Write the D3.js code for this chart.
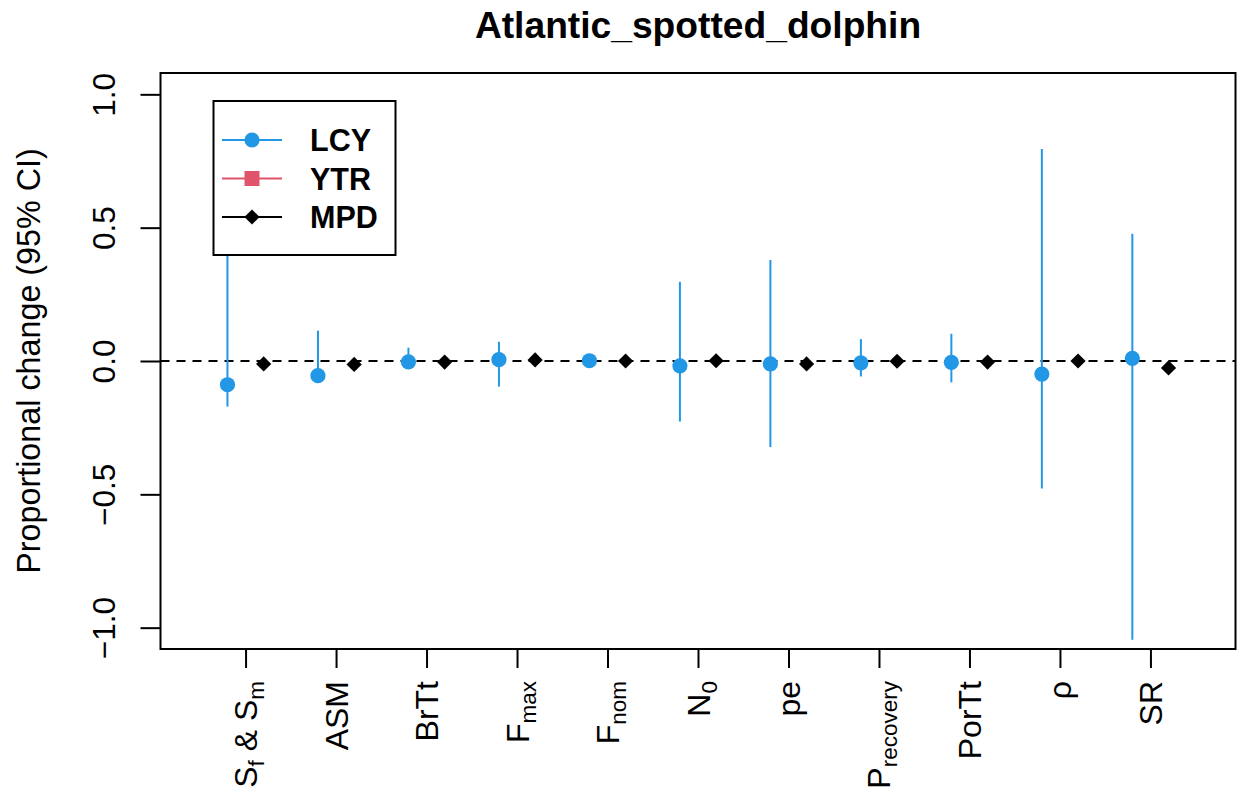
<!DOCTYPE html>
<html><head><meta charset="utf-8">
<script src="https://cdn.jsdelivr.net/npm/d3@7"></script>
<style>body{margin:0;background:#fff}</style>
</head><body>
<svg id="c" width="1244" height="796"></svg>
<script>
// ---- data ----
const title = "Atlantic_spotted_dolphin";
const yLabel = "Proportional change (95% CI)";
const categories = ["Sf & Sm","ASM","BrTt","Fmax","Fnom","N0","pe","Precovery","PorTt","rho","SR"];
// tick label pieces: [text, isSubscript]
const tickLabelParts = [
  [["S",0],["f",1],[" & S",0],["m",1]],
  [["ASM",0]],
  [["BrTt",0]],
  [["F",0],["max",1]],
  [["F",0],["nom",1]],
  [["N",0],["0",1]],
  [["pe",0]],
  [["P",0],["recovery",1]],
  [["PorTt",0]],
  [["\u03C1",0]],
  [["SR",0]]
];
const seriesNames = ["LCY","YTR","MPD"];
const lcyMid = [-0.089,-0.055,-0.003,0.005,0.001,-0.018,-0.011,-0.007,-0.005,-0.049,0.010];
const lcyLo  = [-0.171,-0.060,-0.010,-0.096,-0.008,-0.227,-0.323,-0.058,-0.080,-0.478,-1.045];
const lcyHi  = [0.450,0.114,0.050,0.072,0.010,0.297,0.379,0.082,0.102,0.795,0.477];
const ytrMid = [null,null,null,null,null,null,null,null,null,null,null];
const ytrLo  = [null,null,null,null,null,null,null,null,null,null,null];
const ytrHi  = [null,null,null,null,null,null,null,null,null,null,null];
const mpdMid = [-0.011,-0.013,-0.004,0.004,0.000,0.001,-0.011,-0.001,-0.004,0.000,-0.026];
const mpdLo  = [-0.014,-0.016,-0.006,0.002,-0.002,-0.001,-0.014,-0.003,-0.006,-0.002,-0.029];
const mpdHi  = [-0.008,-0.010,-0.002,0.006,0.002,0.003,-0.008,0.001,-0.002,0.002,-0.023];
const yTicks = [-1.0,-0.5,0.0,0.5,1.0];

// ---- layout ----
const FONT = "'Liberation Sans', Arial, Helvetica, sans-serif";
const svg = d3.select("#c");
const L = 160.5, R = 1235.5, T = 73, B = 649;
const n = categories.length;
const x = d3.scaleLinear().domain([0.5 - 0.04*n, n + 0.5 + 0.04*n]).range([L, R]);
const y = d3.scaleLinear().domain([-1.08, 1.08]).range([B, T]);
const offsets = [-0.2, 0, 0.2];
const colors = ["#2297E6", "#DF536B", "#000000"];
const series = [
  {name: seriesNames[0], mid: lcyMid, lo: lcyLo, hi: lcyHi, color: colors[0], shape: "circle", off: offsets[0]},
  {name: seriesNames[1], mid: ytrMid, lo: ytrLo, hi: ytrHi, color: colors[1], shape: "square", off: offsets[1]},
  {name: seriesNames[2], mid: mpdMid, lo: mpdLo, hi: mpdHi, color: colors[2], shape: "diamond", off: offsets[2]}
];

// zero line
svg.append("line").attr("x1", L).attr("x2", R).attr("y1", y(0)).attr("y2", y(0))
  .attr("stroke", "#000").attr("stroke-width", 2).attr("stroke-dasharray", "9,7");

function marker(g, shape, cx, cy, color) {
  if (shape === "circle") {
    g.append("circle").attr("cx", cx).attr("cy", cy).attr("r", 7.6).attr("fill", color);
  } else if (shape === "square") {
    g.append("rect").attr("x", cx - 7.5).attr("y", cy - 7.5).attr("width", 15).attr("height", 15).attr("fill", color);
  } else {
    const s = 7.6;
    g.append("path").attr("d", `M${cx},${cy - s}L${cx + s},${cy}L${cx},${cy + s}L${cx - s},${cy}Z`).attr("fill", color);
  }
}

const marks = svg.append("g");
series.forEach(s => {
  s.mid.forEach((v, i) => {
    if (v === null) return;
    const cx = x(i + 1 + s.off);
    marks.append("line").attr("x1", cx).attr("x2", cx).attr("y1", y(s.lo[i])).attr("y2", y(s.hi[i]))
      .attr("stroke", s.color).attr("stroke-width", 2);
  });
});
series.forEach(s => {
  s.mid.forEach((v, i) => {
    if (v === null) return;
    marker(marks, s.shape, x(i + 1 + s.off), y(v), s.color);
  });
});

// box
svg.append("rect").attr("x", L).attr("y", T).attr("width", R - L).attr("height", B - T)
  .attr("fill", "none").attr("stroke", "#000").attr("stroke-width", 2);

// y axis
const yAxis = svg.append("g").attr("transform", `translate(${L},0)`)
  .call(d3.axisLeft(y).tickValues(yTicks).tickSize(20).tickFormat(d3.format(".1f")));
yAxis.select(".domain").remove();
yAxis.selectAll(".tick line").attr("stroke-width", 2);
yAxis.selectAll(".tick text")
  .attr("x", 0).attr("y", -45.5).attr("dy", 0)
  .attr("transform", "rotate(-90)")
  .attr("text-anchor", "middle")
  .style("font-family", FONT).style("font-size", "31.5px").attr("fill", "#000");

// x axis
const xAxis = svg.append("g").attr("transform", `translate(0,${B})`)
  .call(d3.axisBottom(x).tickValues(d3.range(1, n + 1)).tickSize(19).tickFormat(""));
xAxis.select(".domain").remove();
xAxis.selectAll(".tick line").attr("stroke-width", 2);

tickLabelParts.forEach((parts, i) => {
  const tx = x(i + 1) + 11.5;
  const t = svg.append("text")
    .attr("transform", `translate(${tx},681) rotate(-90)`)
    .attr("text-anchor", "end")
    .style("font-family", FONT).style("font-size", "32px").attr("fill", "#000");
  let shifted = false;
  parts.forEach(([txt, sub]) => {
    const sp = t.append("tspan").text(txt);
    if (sub && !shifted) { sp.attr("dy", 7).style("font-size", "22.5px"); shifted = true; }
    else if (sub) { sp.style("font-size", "22.5px"); }
    else if (!sub && shifted) { sp.attr("dy", -7); shifted = false; }
  });
});

// y label
svg.append("text")
  .attr("transform", `translate(40,${(T + B) / 2}) rotate(-90)`)
  .attr("text-anchor", "middle")
  .style("font-family", FONT).style("font-size", "32.3px").attr("fill", "#000")
  .text(yLabel);

// title
svg.append("text")
  .attr("x", (L + R) / 2).attr("y", 38)
  .attr("text-anchor", "middle")
  .style("font-family", FONT).style("font-size", "37.2px").style("font-weight", "bold")
  .text(title);

// legend
const lg = svg.append("g");
lg.append("rect").attr("x", 213.5).attr("y", 101).attr("width", 182).attr("height", 154)
  .attr("fill", "#fff").attr("stroke", "#000").attr("stroke-width", 2);
const rowY = [140, 178.5, 217];
series.forEach((s, k) => {
  const ry = rowY[k];
  lg.append("line").attr("x1", 222).attr("x2", 282).attr("y1", ry).attr("y2", ry)
    .attr("stroke", s.color).attr("stroke-width", 2);
  marker(lg, s.shape, 252, ry, s.color);
  lg.append("text").attr("x", 310).attr("y", ry + 11)
    .style("font-family", FONT).style("font-size", "30.5px").style("font-weight", "bold")
    .text(s.name);
});
</script>
</body></html>
